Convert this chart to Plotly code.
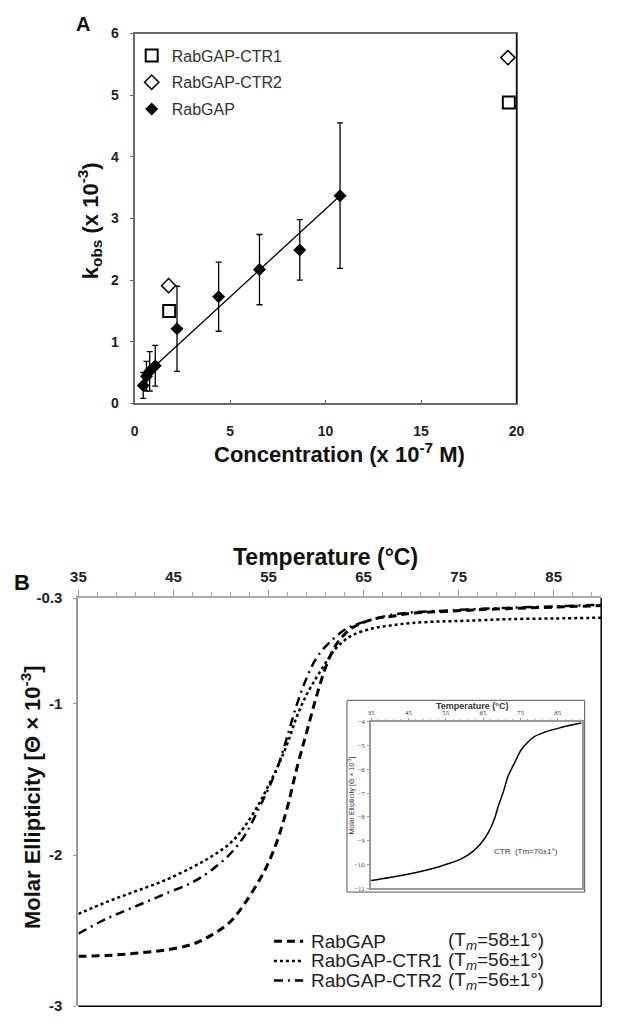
import plotly.graph_objects as go

W, H = 617, 1024

# ---------------- Panel A data ----------------
conc_rabgap = [0.45, 0.62, 0.79, 1.08, 2.22, 4.40, 6.54, 8.65, 10.76]
kobs_rabgap = [0.29, 0.44, 0.52, 0.61, 1.21, 1.73, 2.17, 2.49, 3.37]
kobs_rabgap_err = [0.21, 0.24, 0.32, 0.33, 0.69, 0.56, 0.57, 0.49, 1.18]
conc_ctr1 = [1.81, 19.6]
kobs_ctr1 = [1.50, 4.88]
conc_ctr2 = [1.78, 19.55]
kobs_ctr2 = [1.91, 5.61]
fit_conc = [0.45, 10.76]
fit_kobs = [0.43, 3.37]
a_xticks = [0, 5, 10, 15, 20]
a_yticks = [0, 1, 2, 3, 4, 5, 6]

# ---------------- Panel B data ----------------
temp = [35, 38, 41, 44, 47, 49, 51, 52.5, 54, 55, 56, 57, 58, 59, 60, 61, 62, 63,
        64, 66, 68, 70, 73, 76, 80, 85, 90]
ell_rabgap = [-2.67, -2.665, -2.65, -2.63, -2.59, -2.53, -2.44, -2.32, -2.17, -2.05,
              -1.89, -1.68, -1.42, -1.19, -0.96, -0.76, -0.62, -0.54, -0.49, -0.44,
              -0.42, -0.40, -0.39, -0.38, -0.37, -0.36, -0.35]
ell_ctr1 = [-2.39, -2.31, -2.24, -2.17, -2.08, -2.01, -1.92, -1.81, -1.66, -1.54,
            -1.41, -1.26, -1.08, -0.94, -0.83, -0.73, -0.64, -0.58, -0.54, -0.50,
            -0.48, -0.465, -0.455, -0.45, -0.44, -0.435, -0.43]
ell_ctr2 = [-2.52, -2.42, -2.34, -2.26, -2.18, -2.10, -1.99, -1.87, -1.69, -1.56,
            -1.41, -1.21, -1.00, -0.83, -0.70, -0.62, -0.56, -0.51, -0.48, -0.44,
            -0.41, -0.395, -0.385, -0.375, -0.365, -0.355, -0.345]
b_xticks = [35, 45, 55, 65, 75, 85]
b_yticks = [-3, -2, -1, -0.3]
b_yticktext = ["-3", "-2", "-1", "-0.3"]
legend_names = ["RabGAP", "RabGAP-CTR1", "RabGAP-CTR2"]
legend_tm = ["58", "56", "56"]

# inset (CTR)
inset_temp = [35, 40, 46.5, 52, 55.2, 59, 62.2, 64.5, 66.5, 68, 69.1, 70.5, 71.7,
              73.5, 75.2, 77, 78.7, 81.5, 84.8, 88, 91.3]
inset_ell = [-10.68, -10.55, -10.36, -10.15, -9.99, -9.78, -9.46, -9.1, -8.63, -8.1,
             -7.53, -6.9, -6.28, -5.7, -5.17, -4.85, -4.62, -4.43, -4.28, -4.15, -4.04]
inset_xticks = [35, 45, 55, 65, 75, 85]
inset_yticks = [-4, -5, -6, -7, -8, -9, -10, -11]


def px(x):
    return x / W


def py(y):
    return 1 - y / H


FONT = "Liberation Sans, Arial, sans-serif"

fig = go.Figure()

# Panel A traces
fig.add_trace(go.Scatter(x=fit_conc, y=fit_kobs, mode="lines",
                         line=dict(color="black", width=1.3), showlegend=False,
                         xaxis="x", yaxis="y"))
fig.add_trace(go.Scatter(x=conc_ctr1, y=kobs_ctr1, mode="markers", name="RabGAP-CTR1",
                         marker=dict(symbol="square-open", size=12, color="black",
                                     line=dict(width=2, color="black")),
                         legendgroup="a1", xaxis="x", yaxis="y"))
fig.add_trace(go.Scatter(x=conc_ctr2, y=kobs_ctr2, mode="markers", name="RabGAP-CTR2",
                         marker=dict(symbol="diamond-open", size=11, color="black",
                                     line=dict(width=1.5, color="black")),
                         legendgroup="a2", xaxis="x", yaxis="y"))
fig.add_trace(go.Scatter(x=conc_rabgap, y=kobs_rabgap, mode="markers", name="RabGAP",
                         marker=dict(symbol="diamond", size=10, color="black"),
                         error_y=dict(type="data", array=kobs_rabgap_err, visible=True,
                                      color="black", thickness=1.3, width=3),
                         legendgroup="a3", xaxis="x", yaxis="y"))

# Panel B traces
fig.add_trace(go.Scatter(x=temp, y=ell_ctr1, mode="lines", showlegend=False,
                         line=dict(color="black", width=2.5, dash="dot", shape="spline"),
                         xaxis="x2", yaxis="y2"))
fig.add_trace(go.Scatter(x=temp, y=ell_ctr2, mode="lines", showlegend=False,
                         line=dict(color="black", width=2.5, dash="9px,5px,2px,5px",
                                   shape="spline"),
                         xaxis="x2", yaxis="y2"))
fig.add_trace(go.Scatter(x=temp, y=ell_rabgap, mode="lines", showlegend=False,
                         line=dict(color="black", width=3, dash="8px,5px", shape="spline"),
                         xaxis="x2", yaxis="y2"))

# Inset
fig.add_trace(go.Scatter(x=inset_temp, y=inset_ell, mode="lines", showlegend=False,
                         line=dict(color="black", width=1.5, shape="spline"),
                         xaxis="x3", yaxis="y3"))

tickA = dict(family=FONT, size=14, color="#222", weight="bold")
tickB = dict(family=FONT, size=15, color="#222", weight="bold")
tickI = dict(family="Liberation Serif, Times New Roman, serif", size=7, color="#444")

fig.update_layout(
    width=W, height=H,
    margin=dict(l=0, r=0, t=0, b=0),
    paper_bgcolor="white", plot_bgcolor="white",
    font=dict(family=FONT, color="#222"),
    showlegend=True,
    legend=dict(x=px(127), y=py(30), xanchor="left", yanchor="top",
                font=dict(family=FONT, size=16, color="#333"),
                bgcolor="rgba(0,0,0,0)", tracegroupgap=3),
    xaxis=dict(domain=[px(130), px(522)], range=[0, 20], anchor="y",
               tickvals=a_xticks, ticks="inside", ticklen=3, tickcolor="#666",
               showline=True, linecolor="#6a6a6a", linewidth=2, mirror=True,
               showgrid=False, zeroline=False, tickfont=tickA, ticklabelstandoff=14),
    yaxis=dict(domain=[py(401), py(25)], range=[0, 6], anchor="x",
               tickvals=a_yticks, ticks="outside", ticklen=3, tickcolor="#666",
               showline=True, linecolor="#6a6a6a", linewidth=2, mirror=True,
               showgrid=False, zeroline=False, tickfont=tickA, ticklabelstandoff=8),
    xaxis2=dict(domain=[px(72.3), px(609)], range=[35, 90], anchor="y2", side="top",
                tickvals=b_xticks, ticks="outside", ticklen=6, tickcolor="#999",
                minor=dict(dtick=2, tick0=35, ticks="outside", ticklen=4, tickcolor="#aaa"),
                showline=True, linecolor="#aaa", linewidth=2,
                showgrid=False, zeroline=False, tickfont=tickB, ticklabelstandoff=2),
    yaxis2=dict(domain=[py(1014), py(599)], range=[-3, -0.3], anchor="x2",
                tickvals=b_yticks, ticktext=b_yticktext, ticks="outside", ticklen=3,
                tickcolor="#999", showline=True, linecolor="#999", linewidth=2,
                showgrid=False, zeroline=False, tickfont=tickB, ticklabelstandoff=8),
    xaxis3=dict(domain=[px(372.7), px(589)], range=[35, 91.4], anchor="y3", side="top",
                tickvals=inset_xticks, ticks="outside", ticklen=2, tickcolor="#999",
                minor=dict(dtick=2, tick0=35, ticks="outside", ticklen=1.5,
                           tickcolor="#aaa"),
                showline=True, linecolor="#999", linewidth=1.5, mirror=True,
                showgrid=False, zeroline=False, tickfont=tickI, ticklabelstandoff=0),
    yaxis3=dict(domain=[py(894), py(725)], range=[-11, -4], anchor="x3",
                tickvals=inset_yticks, ticks="outside", ticklen=2, tickcolor="#999",
                showline=True, linecolor="#999", linewidth=1.5, mirror=True,
                showgrid=False, zeroline=False, tickfont=tickI, ticklabelstandoff=1),
)

shapes = [
    # panel A right frame (dark, thin)
    dict(type="line", xref="x domain", yref="y domain", x0=1, x1=1, y0=0, y1=1,
         line=dict(color="#111", width=1.3)),
    # panel B bottom & right frame
    dict(type="line", xref="x2 domain", yref="y2 domain", x0=0, x1=1, y0=0, y1=0,
         line=dict(color="black", width=1.5)),
    dict(type="line", xref="x2 domain", yref="y2 domain", x0=1, x1=1, y0=0, y1=1,
         line=dict(color="black", width=1.5)),
    # inset outer frame
    dict(type="rect", xref="paper", yref="paper", x0=px(348), x1=px(592),
         y0=py(898), y1=py(703), line=dict(color="#555", width=1)),
]
dashes = ["8px,5px", "dot", "9px,5px,2px,5px"]
widths = [3, 2.5, 2.5]
rows_y = [948, 968, 988]
for d, w, yy in zip(dashes, widths, rows_y):
    shapes.append(dict(type="line", xref="paper", yref="paper", x0=px(273), x1=px(303),
                       y0=py(yy), y1=py(yy), line=dict(color="black", width=w, dash=d)))
fig.update_layout(shapes=shapes)

ann = []


def add_text(text, x, y, size, bold=False, angle=0, xanchor="center", color="#111",
             family=FONT):
    ann.append(dict(text=text, x=px(x), y=py(y), xref="paper", yref="paper",
                    showarrow=False, textangle=angle, xanchor=xanchor, yanchor="middle",
                    font=dict(family=family, size=size, color=color,
                              weight="bold" if bold else "normal")))


add_text("A", 77, 15, 20, bold=True)
add_text("B", 14, 583, 22, bold=True)
add_text("Concentration (x 10<sup>-7</sup> M)", 340, 452, 22, bold=True)
add_text("k<sub>obs</sub> (x 10<sup>-3</sup>)", 84, 215, 22, bold=True, angle=-90)
add_text("Temperature (°C)", 326, 557, 23, bold=True)
add_text("Molar Ellipticity [Θ × 10<sup>-3</sup>]", 23, 801, 22, bold=True, angle=-90)
for name, tm, yy in zip(legend_names, legend_tm, rows_y):
    add_text(name, 309, yy, 19, xanchor="left", color="#222")
    add_text("(T<sub><i>m</i></sub>=" + tm + "±1°)", 450, yy, 19, xanchor="left",
             color="#222")
add_text("Temperature (°C)", 476, 709, 9, bold=True, color="#333")
add_text("Molar Ellipticity [Θ × 10<sup>-3</sup>]", 353, 800, 7, angle=-90, color="#333")
add_text("CTR  (Tm=70±1°)", 532, 857, 8, color="#333")
fig.update_layout(annotations=ann)

fig.write_html("out.html",
               config={"displayModeBar": False},
               post_script="document.body.style.margin='0';"
                           "document.documentElement.style.overflow='hidden';")
